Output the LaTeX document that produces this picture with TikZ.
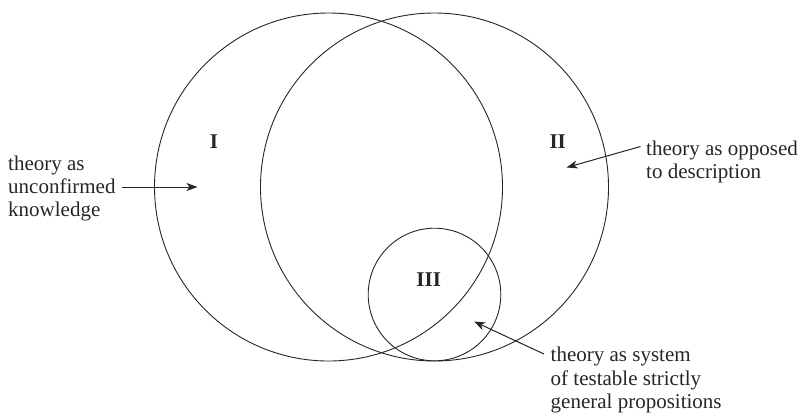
\documentclass[tikz,border=0pt]{standalone}
\usepackage{fontspec}
\setmainfont{Liberation Serif}
\usetikzlibrary{arrows.meta}
\begin{document}
\begin{tikzpicture}[x=1pt,y=-1pt,
  ring/.style={draw=black!85,line width=0.9pt},
  lbl/.style={inner sep=0pt,anchor=base west,font=\fontsize{21}{23.5}\selectfont,text=black!85},
  num/.style={inner sep=0pt,font=\fontsize{21}{23.5}\selectfont\bfseries,text=black!85},
  pointer/.style={draw=black!85,line width=1pt,-{Stealth[length=11pt,width=8pt,inset=3pt]}}]
\useasboundingbox (0,0) rectangle (802,416);
% circles
\draw[ring] (328.5,187) circle[radius=174];
\draw[ring] (434.5,187) circle[radius=174];
\draw[ring] (434.5,294.5) circle[radius=66.3];
% region labels
\node[num] (rI) at (214,142) {I};
\node[num] (rII) at (557.7,142) {II};
\node[num] (rIII) at (428.7,279.5) {III};
% left text
\node[lbl] (l1) at (8,170.5) {theory as};
\node[lbl] (l2) at (8,193.5) {unconfirmed};
\node[lbl] (l3) at (8,216.7) {knowledge};
% right text
\node[lbl] (r1) at (646,155) {theory as opposed};
\node[lbl] (r2) at (646,178.3) {to description};
% bottom text
\node[lbl] (b1) at (550.5,361.5) {theory as system};
\node[lbl] (b2) at (550.5,385) {of testable strictly};
\node[lbl] (b3) at (550.5,408.5) {general propositions};
% arrow ends
\coordinate (a1s) at (121.7,187);
\coordinate (a1e) at (197.5,187);
\coordinate (a2s) at (640.5,146.5);
\coordinate (a2e) at (566.5,167.5);
\coordinate (a3s) at (544,354);
\coordinate (a3e) at (474,321.5);
\draw[pointer] (a1s) -- (a1e);
\draw[pointer] (a2s) -- (a2e);
\draw[pointer] (a3s) -- (a3e);
\end{tikzpicture}
\end{document}
